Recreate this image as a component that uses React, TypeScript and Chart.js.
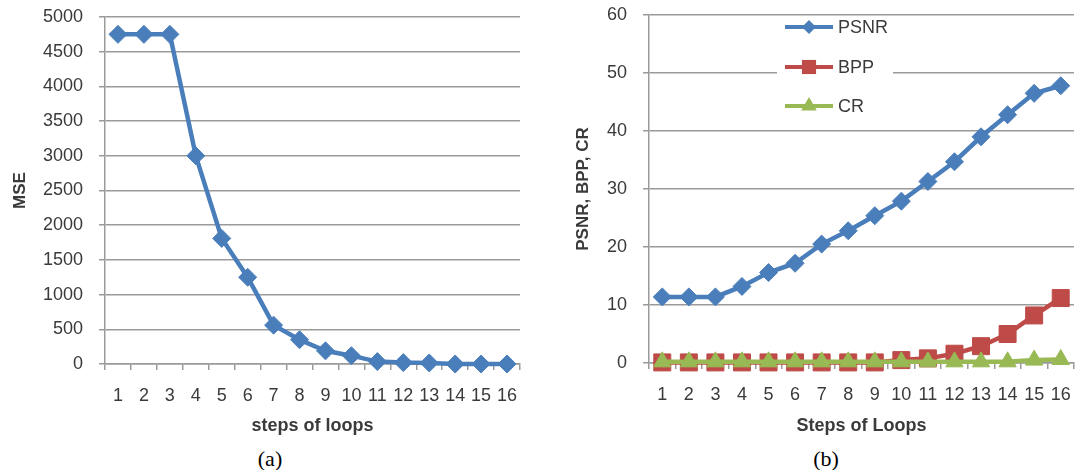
import React, { useEffect, useRef } from 'react';
import { Chart, registerables } from 'chart.js';

Chart.register(...registerables);

const steps = ['1', '2', '3', '4', '5', '6', '7', '8', '9', '10', '11', '12', '13', '14', '15', '16'];
const mseValues = [4750, 4750, 4750, 3000, 1810, 1250, 560, 350, 190, 120, 35, 20, 15, 0, 0, 0];
const psnrValues = [11.4, 11.4, 11.4, 13.2, 15.6, 17.2, 20.5, 22.8, 25.4, 27.9, 31.3, 34.7, 39.0, 42.8, 46.5, 47.8];
const bppValues = [0.1, 0.1, 0.1, 0.1, 0.1, 0.1, 0.1, 0.1, 0.1, 0.5, 0.8, 1.6, 2.9, 5.0, 8.2, 11.2];
const crValues = [0.2, 0.2, 0.2, 0.2, 0.2, 0.2, 0.2, 0.2, 0.2, 0.2, 0.2, 0.2, 0.2, 0.2, 0.5, 0.6];
const seriesNames = ['PSNR', 'BPP', 'CR'];

const BLUE = '#4A7EBB';
const RED = '#BE4B48';
const GREEN = '#98B954';
const GRID = '#9a9a9a';
const TEXT = '#3a3a3a';
const FONT = "'Liberation Sans', Arial, sans-serif";
const CANVAS_H = 445;

function drawMarker(ctx: CanvasRenderingContext2D, style: string, x: number, y: number, r: number, color: string) {
  ctx.save();
  ctx.fillStyle = color;
  ctx.beginPath();
  if (style === 'rectRot') {
    ctx.moveTo(x - r, y);
    ctx.lineTo(x, y - r);
    ctx.lineTo(x + r, y);
    ctx.lineTo(x, y + r);
  } else if (style === 'rect') {
    const s = r * Math.SQRT1_2;
    ctx.rect(x - s, y - s, 2 * s, 2 * s);
  } else {
    ctx.moveTo(x, y - r);
    ctx.lineTo(x + r * Math.sin(Math.PI * 2 / 3), y + r / 2);
    ctx.lineTo(x - r * Math.sin(Math.PI * 2 / 3), y + r / 2);
  }
  ctx.closePath();
  ctx.fill();
  ctx.restore();
}

const legendPlugin = {
  id: 'insideLegend',
  beforeDatasetsDraw(chart: any) {
    if (!chart.options.plugins.insideLegend || !chart.options.plugins.insideLegend.show) return;
    const ctx = chart.ctx as CanvasRenderingContext2D;
    ctx.save();
    ctx.fillStyle = '#ffffff';
    ctx.fillRect(237, 20, 116, 100);
    const ys = [27, 67, 106];
    const styles = ['rectRot', 'rect', 'triangle'];
    const radii = [7, 10, 9];
    chart.data.datasets.forEach((ds: any, i: number) => {
      const y = ys[i];
      ctx.strokeStyle = ds.borderColor;
      ctx.lineWidth = 4;
      ctx.beginPath();
      ctx.moveTo(245, y);
      ctx.lineTo(293, y);
      ctx.stroke();
      drawMarker(ctx, styles[i], 269, y, radii[i], ds.borderColor);
      ctx.fillStyle = TEXT;
      ctx.font = `18px ${FONT}`;
      ctx.textBaseline = 'middle';
      ctx.textAlign = 'left';
      ctx.fillText(ds.label, 298, y + 1);
    });
    ctx.restore();
  },
};

function baseOptions(opts: {
  yMax: number; yStep: number; yWidth: number; xHeight: number; pad: any; yTitle: string; yTitlePad: number; xTitle: string;
}) {
  return {
    responsive: false,
    animation: false as const,
    devicePixelRatio: 1,
    layout: { padding: opts.pad },
    plugins: {
      legend: { display: false },
      tooltip: { enabled: false },
      title: { display: false },
    },
    scales: {
      x: {
        offset: true,
        grid: { drawOnChartArea: false, drawTicks: true, tickLength: 6, offset: true, color: GRID, lineWidth: 1.5 },
        border: { color: GRID, width: 1.5 },
        ticks: { autoSkip: false, maxRotation: 0, padding: 15, color: TEXT, font: { family: FONT, size: 18 } },
        title: { display: true, text: opts.xTitle, color: TEXT, font: { family: FONT, size: 18, weight: 'bold' }, padding: { top: 0, bottom: 8 } },
        afterFit: (scale: any) => { scale.height = opts.xHeight; scale.paddingLeft = 0; scale.paddingRight = 0; },
      },
      y: {
        min: 0,
        max: opts.yMax,
        grid: { color: GRID, lineWidth: 1.5, tickLength: 6 },
        border: { color: GRID, width: 1.5 },
        ticks: {
          stepSize: opts.yStep, padding: 16, color: TEXT, font: { family: FONT, size: 18 },
          callback: (v: any) => String(v),
        },
        title: { display: true, text: opts.yTitle, color: TEXT, font: { family: FONT, size: 17, weight: 'bold' }, padding: { top: opts.yTitlePad, bottom: 0 } },
        afterFit: (scale: any) => { scale.width = opts.yWidth; scale.paddingTop = 0; scale.paddingBottom = 0; },
      },
    },
  };
}

function MseChart() {
  const ref = useRef<HTMLCanvasElement>(null);
  useEffect(() => {
    if (!ref.current) return;
    const chart = new Chart(ref.current, {
      type: 'line',
      data: {
        labels: steps,
        datasets: [
          {
            label: 'MSE',
            data: mseValues,
            borderColor: BLUE,
            backgroundColor: BLUE,
            borderWidth: 4.5,
            pointStyle: 'rectRot',
            pointRadius: 9,
            pointBorderWidth: 1,
            tension: 0,
            clip: false,
          } as any,
        ],
      },
      options: baseOptions({
        yMax: 5000, yStep: 500, yWidth: 105, xHeight: CANVAS_H - 364,
        pad: { left: 0, right: 20, top: 17, bottom: 0 },
        yTitle: 'MSE', yTitlePad: 10, xTitle: 'steps of loops',
      }) as any,
    });
    return () => chart.destroy();
  }, []);
  return <canvas ref={ref} width={540} height={CANVAS_H} style={{ position: 'absolute', left: 0, top: 0 }} />;
}

function QualityChart() {
  const ref = useRef<HTMLCanvasElement>(null);
  useEffect(() => {
    if (!ref.current) return;
    const opts: any = baseOptions({
      yMax: 60, yStep: 10, yWidth: 109, xHeight: CANVAS_H - 363,
      pad: { left: 0, right: 2, top: 15, bottom: 0 },
      yTitle: 'PSNR, BPP, CR', yTitlePad: 33, xTitle: 'Steps of Loops',
    });
    opts.plugins.insideLegend = { show: true };
    const chart = new Chart(ref.current, {
      type: 'line',
      data: {
        labels: steps,
        datasets: [
          {
            label: seriesNames[0], data: psnrValues, borderColor: BLUE, backgroundColor: BLUE,
            borderWidth: 4.5, pointStyle: 'rectRot', pointRadius: 9, pointBorderWidth: 1, tension: 0, clip: false, order: 2,
          } as any,
          {
            label: seriesNames[1], data: bppValues, borderColor: RED, backgroundColor: RED,
            borderWidth: 4.5, pointStyle: 'rect', pointRadius: 12, pointBorderWidth: 1, tension: 0, clip: false, order: 1,
          } as any,
          {
            label: seriesNames[2], data: crValues, borderColor: GREEN, backgroundColor: GREEN,
            borderWidth: 4.5, pointStyle: 'triangle', pointRadius: 10, pointBorderWidth: 1, tension: 0, clip: false, order: 0,
          } as any,
        ],
      },
      options: opts,
      plugins: [legendPlugin as any],
    });
    return () => chart.destroy();
  }, []);
  return <canvas ref={ref} width={547} height={CANVAS_H} style={{ position: 'absolute', left: 540, top: 0 }} />;
}

const captionStyle: React.CSSProperties = {
  position: 'absolute',
  top: 459,
  transform: 'translate(-50%, -50%)',
  fontFamily: "'Liberation Serif', 'Times New Roman', serif",
  fontSize: 22,
  lineHeight: 1,
  color: '#000',
};

export default function App() {
  return (
    <div style={{ position: 'absolute', left: 0, top: 0, width: 1087, height: 470, background: '#fff', overflow: 'hidden' }}>
      <MseChart />
      <QualityChart />
      <div style={{ ...captionStyle, left: 270 }}>(a)</div>
      <div style={{ ...captionStyle, left: 826 }}>(b)</div>
    </div>
  );
}
